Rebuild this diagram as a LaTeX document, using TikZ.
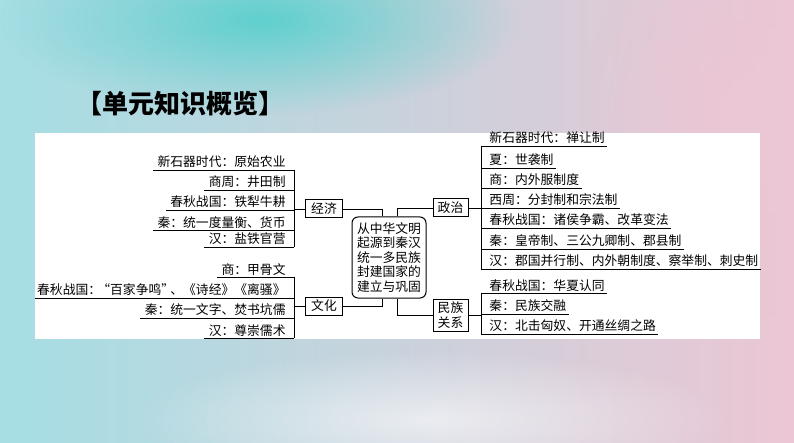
\documentclass[tikz,border=0pt]{standalone}
\usepackage{fontspec}
\newfontfamily\cjk{Noto Sans CJK SC}
\usetikzlibrary{fadings}

\definecolor{tealL}{RGB}{165,222,228}
\definecolor{lilla}{RGB}{214,214,226}
\definecolor{rosa}{RGB}{236,198,212}
\definecolor{tealF}{RGB}{95,208,206}
\tikzfading[name=sfuma, inner color=transparent!0, outer color=transparent!100]

\tikzset{
    voce/.style={font=\cjk\fontsize{12.8}{14}\selectfont, inner xsep=2pt, inner ysep=1.5pt},
    vocesx/.style={voce, inner xsep=4pt, anchor=south east},
    vocedx/.style={voce, anchor=south west},
    ramo/.style={draw, line width=1pt, font=\cjk\fontsize{12.8}{14}\selectfont,
        minimum width=37pt, minimum height=18pt, inner sep=0pt},
}

\begin{document}
\begin{tikzpicture}[x=1pt, y=-1pt, line width=0.9pt]
    \useasboundingbox (0,0) rectangle (794,443);

    % Sfondo
    \shade[left color=tealL, middle color=lilla, right color=rosa] (0,0) rectangle (794,443);
    \fill[tealF, path fading=sfuma] (260,20) ellipse (260 and 95);
    \fill[rosa, path fading=sfuma] (740,120) ellipse (160 and 200);
    \fill[white, opacity=0.6, path fading=sfuma] (430,420) ellipse (300 and 70);
    \fill[white] (35,133) rectangle (760,339);

    % Titolo
    \node[font=\cjk\bfseries\fontsize{26}{26}\selectfont, anchor=west, inner sep=0pt] (titolo) at (76,104) {【单元知识概览】};

    % Nodo centrale e rami
    \node[draw, line width=1pt, rounded corners=6pt, minimum width=74pt, minimum height=81pt,
        inner sep=0pt, align=center, font=\cjk\fontsize{12.8}{14.5}\selectfont] (centro) at (389,257.5)
        {从中华文明\\起源到秦汉\\统一多民族\\封建国家的\\建立与巩固};
    \node[ramo] (jingji) at (324,209) {经济};
    \node[ramo] (wenhua) at (324,306) {文化};
    \node[ramo, minimum width=35pt] (zhengzhi) at (450.5,208) {政治};
    \node[ramo, minimum width=35pt, minimum height=32pt, align=center,
        font=\cjk\fontsize{12.8}{14.5}\selectfont] (minzu) at (450.5,315) {民族\\关系};

    \draw (jingji.east) -| ([xshift=-7pt]centro.north);
    \draw (wenhua.east) -| ([xshift=-7pt]centro.south);
    \draw (zhengzhi.west) -| ([xshift=8pt]centro.north);
    \draw (minzu.west) -| ([xshift=8pt]centro.south);

    % Economia
    \node[vocesx] (e1) at (290,170) {新石器时代：原始农业};
    \node[vocesx] (e2) at (290,190) {商周：井田制};
    \node[vocesx] (e3) at (290,210) {春秋战国：铁犁牛耕};
    \node[vocesx] (e4) at (290,230) {秦：统一度量衡、货币};
    \node[vocesx] (e5) at (290,247) {汉：盐铁官营};
    \coordinate (ev) at (294,0);
    \draw (ev |- e1.south) -- (ev |- e5.south);
    \foreach \i in {1,...,5} \draw (e\i.south west) -- (ev |- e\i.south);
    \draw (jingji.west) -- (ev |- jingji.west);

    % Cultura
    \node[vocesx] (c1) at (290,277) {商：甲骨文};
    \node[vocesx, inner xsep=2pt] (c2) at (288,298) {春秋战国：\makebox[9pt][r]{“}百家争鸣\makebox[9pt][l]{”}、《诗经》《离骚》};
    \node[vocesx] (c3) at (290,318) {秦：统一文字、焚书坑儒};
    \node[vocesx] (c4) at (290,338) {汉：尊崇儒术};
    \draw (ev |- c1.south) -- (ev |- c4.south);
    \foreach \i in {1,...,4} \draw (c\i.south west) -- (ev |- c\i.south);
    \draw (wenhua.west) -- (ev |- wenhua.west);

    % Politica
    \node[vocedx] (p1) at (487,146) {新石器时代：禅让制};
    \node[vocedx] (p2) at (487,168) {夏：世袭制};
    \node[vocedx] (p3) at (487,188) {商：内外服制度};
    \node[vocedx] (p4) at (487,208) {西周：分封制和宗法制};
    \node[vocedx] (p5) at (487,228) {春秋战国：诸侯争霸、改革变法};
    \node[vocedx] (p6) at (487,249) {秦：皇帝制、三公九卿制、郡县制};
    \node[vocedx] (p7) at (487,269) {汉：郡国并行制、内外朝制度、察举制、刺史制};
    \coordinate (pv) at (481,0);
    \draw (pv |- p1.south) -- (pv |- p7.south);
    \foreach \i in {1,...,7} \draw (pv |- p\i.south) -- (p\i.south east);
    \draw (zhengzhi.east) -- (pv |- zhengzhi.east);

    % Rapporti tra etnie
    \node[vocedx] (m1) at (487,293) {春秋战国：华夏认同};
    \node[vocedx] (m2) at (487,314) {秦：民族交融};
    \node[vocedx] (m3) at (487,334) {汉：北击匈奴、开通丝绸之路};
    \draw (pv |- m1.south) -- (pv |- m3.south);
    \foreach \i in {1,...,3} \draw (pv |- m\i.south) -- (m\i.south east);
    \draw (minzu.east) -- (pv |- minzu.east);

\end{tikzpicture}
\end{document}
